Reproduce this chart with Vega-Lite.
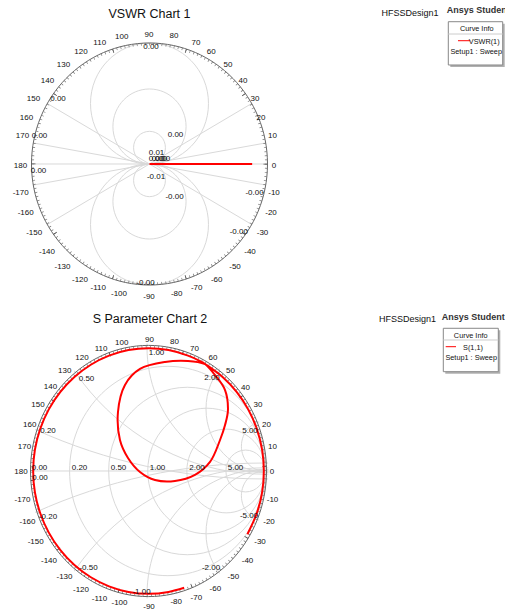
{
  "$schema": "https://vega.github.io/schema/vega-lite/v6.json",
  "padding": 0,
  "autosize": {"type": "pad"},
  "bounds": "flush",
  "spacing": 0,
  "background": "white",
  "config": {"view": {"stroke": null}, "text": {"font": "Liberation Sans", "color": "#111"}},
  "datasets": {
    "g1": [{"x":0,"y":0.5,"r":0.5},{"x":0,"y":-0.5,"r":0.5},{"x":0,"y":0.31,"r":0.31},{"x":0,"y":-0.31,"r":0.31},{"x":0,"y":0.135,"r":0.135},{"x":0,"y":-0.135,"r":0.135}],
    "l1": [{"x":-1,"y":0,"x2":1,"y2":0},{"x":0,"y":0,"x2":0.985,"y2":0.174},{"x":0,"y":0,"x2":0.985,"y2":-0.174},{"x":0,"y":0,"x2":0.866,"y2":0.5},{"x":0,"y":0,"x2":0.866,"y2":-0.5},{"x":0,"y":0,"x2":-0.866,"y2":0.5},{"x":0,"y":0,"x2":-0.866,"y2":-0.5},{"x":0,"y":0,"x2":-0.985,"y2":0.174},{"x":0,"y":0,"x2":-0.985,"y2":-0.174}],
    "unit": [{"x":0,"y":0,"r":1}],
    "rmin1": [{"x":0,"y":0,"r":0.98941}],
    "rmaj1": [{"x":0,"y":0,"r":0.98305}],
    "rmin2": [{"x":0,"y":0,"r":0.98927}],
    "rmaj2": [{"x":0,"y":0,"r":0.98283}],
    "m2": [{"x":0,"y":0,"r":2.28755}],
    "c1": [{"i":0,"x":0,"y":0},{"i":1,"x":0.87,"y":0}],
    "t1": [{"x":0.0127,"y":0.9694,"t":"0.00"},{"x":-0.7754,"y":0.5372,"t":"0.00"},{"x":-0.9322,"y":0.2314,"t":"0.00"},{"x":-0.9407,"y":-0.0554,"t":"0.00"},{"x":0.2203,"y":0.2397,"t":"0.00"},{"x":0.0593,"y":0.0909,"t":"0.01"},{"x":0.0551,"y":-0.105,"t":"-0.01"},{"x":0.2119,"y":-0.2702,"t":"-0.00"},{"x":0.8898,"y":-0.2421,"t":"-0.00"},{"x":0.7568,"y":-0.5595,"t":"-0.00"},{"x":-0.0339,"y":-0.9835,"t":"-0.00"},{"x":0.06,"y":0.04,"t":"0.00"},{"x":0.085,"y":0.04,"t":"0.00"},{"x":0.11,"y":0.04,"t":"0.00"}],
    "a1": [{"x":1.0551,"y":-0.0165,"t":"0"},{"x":1.0424,"y":0.2314,"t":"10"},{"x":0.9449,"y":0.3777,"t":"20"},{"x":0.8941,"y":0.5372,"t":"30"},{"x":0.7924,"y":0.686,"t":"40"},{"x":0.6653,"y":0.8157,"t":"50"},{"x":0.5237,"y":0.9231,"t":"60"},{"x":0.3941,"y":0.9975,"t":"70"},{"x":0.2076,"y":1.0579,"t":"80"},{"x":-0.0042,"y":1.0661,"t":"90"},{"x":-0.2356,"y":1.0521,"t":"100"},{"x":-0.422,"y":0.9975,"t":"110"},{"x":-0.5805,"y":0.9231,"t":"120"},{"x":-0.7288,"y":0.8182,"t":"130"},{"x":-0.8644,"y":0.686,"t":"140"},{"x":-0.9831,"y":0.5372,"t":"150"},{"x":-1.0424,"y":0.3802,"t":"160"},{"x":-1.0763,"y":0.2314,"t":"170"},{"x":-1.0932,"y":-0.014,"t":"180"},{"x":-1.0915,"y":-0.2372,"t":"-170"},{"x":-1.0492,"y":-0.4074,"t":"-160"},{"x":-0.9771,"y":-0.5727,"t":"-150"},{"x":-0.8686,"y":-0.7248,"t":"-140"},{"x":-0.7373,"y":-0.8537,"t":"-130"},{"x":-0.589,"y":-0.9587,"t":"-120"},{"x":-0.4339,"y":-1.0273,"t":"-110"},{"x":-0.2585,"y":-1.0744,"t":"-100"},{"x":-0.0042,"y":-1.0967,"t":"-90"},{"x":0.2305,"y":-1.0744,"t":"-80"},{"x":0.4,"y":-1.0273,"t":"-70"},{"x":0.5695,"y":-0.9587,"t":"-60"},{"x":0.7246,"y":-0.8537,"t":"-50"},{"x":0.8517,"y":-0.7248,"t":"-40"},{"x":0.9576,"y":-0.5727,"t":"-30"},{"x":1.0297,"y":-0.4074,"t":"-20"},{"x":1.0551,"y":-0.2372,"t":"-10"}],
    "lgbox1": [{"x":2.5322,"x2":2.9932,"y":1.176,"y2":0.8182}],
    "lgsh1": [{"x":2.5492,"x2":3.0102,"y":1.1595,"y2":0.8017}],
    "lgsep1": [{"x":2.5322,"x2":2.9932,"y":1.0744,"y2":1.0744}],
    "lgred1": [{"x":2.6144,"x2":2.7178,"y":1.019,"y2":1.019}],
    "lgtxt1": [{"x":2.7729,"y":1.1132,"t":"Curve Info"},{"x":2.8364,"y":1.0107,"t":"VSWR(1)"},{"x":2.7686,"y":0.9281,"t":"Setup1 : Sweep"}],
    "hd1": [{"x":2.2076,"y":1.2452,"t":"HFSSDesign1"}],
    "as1": [{"x":2.5186,"y":1.2727,"t":"Ansys Student"}],
    "ti1": [{"x":0,"y":1.2413,"t":"VSWR Chart 1"}],
    "g2": [{"x":0.1667,"y":0,"r":0.8333},{"x":0.3333,"y":0,"r":0.6667},{"x":0.5,"y":0,"r":0.5},{"x":0.6667,"y":0,"r":0.3333},{"x":0.8333,"y":0,"r":0.1667},{"x":1,"y":5,"r":5},{"x":1,"y":-5,"r":5},{"x":1,"y":2,"r":2},{"x":1,"y":-2,"r":2},{"x":1,"y":1,"r":1},{"x":1,"y":-1,"r":1},{"x":1,"y":0.5,"r":0.5},{"x":1,"y":-0.5,"r":0.5},{"x":1,"y":0.2,"r":0.2},{"x":1,"y":-0.2,"r":0.2}],
    "l2": [{"x":-1,"y":0,"x2":1,"y2":0}],
    "c2": [{"i":1,"x":0.306,"y":-0.942},{"i":2,"x":0.172,"y":-0.975},{"i":3,"x":0,"y":-0.99},{"i":4,"x":-0.172,"y":-0.975},{"i":5,"x":-0.339,"y":-0.93},{"i":6,"x":-0.495,"y":-0.857},{"i":7,"x":-0.636,"y":-0.758},{"i":8,"x":-0.758,"y":-0.636},{"i":9,"x":-0.857,"y":-0.495},{"i":10,"x":-0.93,"y":-0.339},{"i":11,"x":-0.975,"y":-0.172},{"i":12,"x":-0.99,"y":0},{"i":13,"x":-0.975,"y":0.172},{"i":14,"x":-0.93,"y":0.339},{"i":15,"x":-0.857,"y":0.495},{"i":16,"x":-0.758,"y":0.636},{"i":17,"x":-0.636,"y":0.758},{"i":18,"x":-0.495,"y":0.857},{"i":19,"x":-0.339,"y":0.93},{"i":20,"x":-0.172,"y":0.975},{"i":21,"x":0,"y":0.99},{"i":22,"x":0.172,"y":0.975},{"i":23,"x":0.339,"y":0.93},{"i":24,"x":0.434,"y":0.89},{"i":25,"x":0.485,"y":0.863},{"i":26,"x":0.571,"y":0.774},{"i":27,"x":0.657,"y":0.653},{"i":28,"x":0.682,"y":0.492},{"i":29,"x":0.657,"y":0.371},{"i":30,"x":0.614,"y":0.25},{"i":31,"x":0.528,"y":0.073},{"i":32,"x":0.399,"y":-0.032},{"i":33,"x":0.227,"y":-0.081},{"i":34,"x":0.056,"y":-0.073},{"i":35,"x":-0.073,"y":-0.008},{"i":36,"x":-0.176,"y":0.105},{"i":37,"x":-0.245,"y":0.25},{"i":38,"x":-0.262,"y":0.476},{"i":39,"x":-0.202,"y":0.694},{"i":40,"x":-0.073,"y":0.823},{"i":41,"x":0.142,"y":0.879},{"i":42,"x":0.339,"y":0.887},{"i":43,"x":0.485,"y":0.863},{"i":44,"x":0.495,"y":0.857},{"i":45,"x":0.636,"y":0.758},{"i":46,"x":0.758,"y":0.636},{"i":47,"x":0.857,"y":0.495},{"i":48,"x":0.93,"y":0.339},{"i":49,"x":0.975,"y":0.172},{"i":50,"x":0.99,"y":0},{"i":51,"x":0.975,"y":-0.172},{"i":52,"x":0.93,"y":-0.339},{"i":53,"x":0.849,"y":-0.51}],
    "t2": [{"x":-0.9356,"y":0.0218,"t":"0.00"},{"x":-0.9313,"y":-0.0589,"t":"0.00"},{"x":-0.5923,"y":0.0218,"t":"0.20"},{"x":-0.2575,"y":0.0218,"t":"0.50"},{"x":0.0773,"y":0.0218,"t":"1.00"},{"x":0.4163,"y":0.0218,"t":"2.00"},{"x":0.7468,"y":0.0218,"t":"5.00"},{"x":-0.8627,"y":0.3226,"t":"0.20"},{"x":-0.5322,"y":0.7419,"t":"0.50"},{"x":0.0687,"y":0.9492,"t":"1.00"},{"x":0.5451,"y":0.7476,"t":"2.00"},{"x":0.8712,"y":0.3226,"t":"5.00"},{"x":-0.8627,"y":-0.3685,"t":"-0.20"},{"x":-0.515,"y":-0.7847,"t":"-0.50"},{"x":-0.0601,"y":-0.9782,"t":"-1.00"},{"x":0.5365,"y":-0.7847,"t":"-2.00"},{"x":0.8627,"y":-0.3629,"t":"-5.00"}],
    "a2": [{"x":1.0601,"y":-0.0081,"t":"0"},{"x":1.0644,"y":0.196,"t":"10"},{"x":1.0129,"y":0.371,"t":"20"},{"x":0.9399,"y":0.5323,"t":"30"},{"x":0.8326,"y":0.6726,"t":"40"},{"x":0.7039,"y":0.8089,"t":"50"},{"x":0.5536,"y":0.9089,"t":"60"},{"x":0.3948,"y":0.9815,"t":"70"},{"x":0.2232,"y":1.0379,"t":"80"},{"x":0.0086,"y":1.0565,"t":"90"},{"x":-0.23,"y":1.0298,"t":"100"},{"x":-0.4077,"y":0.9815,"t":"110"},{"x":-0.5708,"y":0.9089,"t":"120"},{"x":-0.7193,"y":0.8089,"t":"130"},{"x":-0.8412,"y":0.6798,"t":"140"},{"x":-0.9485,"y":0.5323,"t":"150"},{"x":-1.0197,"y":0.371,"t":"160"},{"x":-1.0644,"y":0.196,"t":"170"},{"x":-1.0944,"y":-0.0105,"t":"180"},{"x":-1.0815,"y":-0.2339,"t":"-170"},{"x":-1.0386,"y":-0.4089,"t":"-160"},{"x":-0.9682,"y":-0.575,"t":"-150"},{"x":-0.8541,"y":-0.7258,"t":"-140"},{"x":-0.721,"y":-0.8524,"t":"-130"},{"x":-0.5794,"y":-0.9597,"t":"-120"},{"x":-0.4206,"y":-1.0298,"t":"-110"},{"x":-0.2489,"y":-1.0621,"t":"-100"},{"x":0.0043,"y":-1.0968,"t":"-90"},{"x":0.2378,"y":-1.054,"t":"-80"},{"x":0.4103,"y":-1.0218,"t":"-70"},{"x":0.5734,"y":-0.9516,"t":"-60"},{"x":0.7279,"y":-0.8524,"t":"-50"},{"x":0.8498,"y":-0.7258,"t":"-40"},{"x":0.9571,"y":-0.575,"t":"-30"},{"x":1.0343,"y":-0.4089,"t":"-20"},{"x":1.0644,"y":-0.2339,"t":"-10"}],
    "lgbox2": [{"x":2.5305,"x2":3.0026,"y":1.1508,"y2":0.8008}],
    "lgsh2": [{"x":2.5476,"x2":3.0197,"y":1.1347,"y2":0.7847}],
    "lgsep2": [{"x":2.5305,"x2":3.0026,"y":1.0565,"y2":1.0565}],
    "lgred2": [{"x":2.5511,"x2":2.6395,"y":1.0024,"y2":1.0024}],
    "lgtxt2": [{"x":2.7657,"y":1.0887,"t":"Curve Info"},{"x":2.7854,"y":0.9944,"t":"S(1,1)"},{"x":2.77,"y":0.9137,"t":"Setup1 : Sweep"}],
    "hd2": [{"x":2.2232,"y":1.2258,"t":"HFSSDesign1"}],
    "as2": [{"x":2.5167,"y":1.2444,"t":"Ansys Student"}],
    "ti2": [{"x":0.0129,"y":1.2234,"t":"S Parameter Chart 2"}]
  },
  "vconcat": [
    {
      "width": 505,
      "height": 306,
      "encoding": {
        "x": {"field": "x", "type": "quantitative", "scale": {"domain": [-1.2669, 3.0127], "nice": false, "zero": false}, "axis": null},
        "y": {"field": "y", "type": "quantitative", "scale": {"domain": [-1.1736, 1.3554], "nice": false, "zero": false}, "axis": null}
      },
      "layer": [
        {"data": {"name": "g1"}, "mark": {"type": "point", "shape": "M-1,0A1,1.02542,0,1,1,1,0A1,1.02542,0,1,1,-1,0Z", "filled": false, "stroke": "#d9d9d9", "strokeWidth": 1, "opacity": 1},
         "encoding": {"size": {"field": "r", "type": "quantitative", "scale": {"type": "pow", "exponent": 2, "domain": [0, 1], "range": [0, 55696]}, "legend": null}}},
        {"data": {"name": "l1"}, "mark": {"type": "rule", "stroke": "#d9d9d9", "strokeWidth": 1},
         "encoding": {"x2": {"field": "x2"}, "y2": {"field": "y2"}}},
        {"data": {"name": "unit"}, "mark": {"type": "point", "shape": "M-1,0A1,1.02542,0,1,1,1,0A1,1.02542,0,1,1,-1,0Z", "filled": false, "stroke": "#666", "strokeWidth": 1, "opacity": 1},
         "encoding": {"size": {"field": "r", "type": "quantitative", "scale": {"type": "pow", "exponent": 2, "domain": [0, 1], "range": [0, 55696]}, "legend": null}}},
        {"data": {"name": "rmin1"}, "mark": {"type": "point", "shape": "M-1,0A1,1.0257,0,1,1,1,0A1,1.0257,0,1,1,-1,0Z", "filled": false, "stroke": "#777", "strokeWidth": 2.5, "strokeDash": [0.7, 3.4277], "strokeDashOffset": 0.35, "opacity": 1},
         "encoding": {"size": {"field": "r", "type": "quantitative", "scale": {"type": "pow", "exponent": 2, "domain": [0, 1], "range": [0, 55696]}, "legend": null}}},
        {"data": {"name": "rmaj1"}, "mark": {"type": "point", "shape": "M-1,0A1,1.02586,0,1,1,1,0A1,1.02586,0,1,1,-1,0Z", "filled": false, "stroke": "#555", "strokeWidth": 4, "strokeDash": [0.8, 73.027], "strokeDashOffset": 0.4, "opacity": 1},
         "encoding": {"size": {"field": "r", "type": "quantitative", "scale": {"type": "pow", "exponent": 2, "domain": [0, 1], "range": [0, 55696]}, "legend": null}}},
        {"data": {"name": "c1"}, "mark": {"type": "line", "stroke": "#ff0000", "strokeWidth": 2},
         "encoding": {"order": {"field": "i", "type": "quantitative"}}},
        {"data": {"name": "t1"}, "mark": {"type": "text", "fontSize": 8, "align": "center", "baseline": "middle"},
         "encoding": {"text": {"field": "t"}}},
        {"data": {"name": "a1"}, "mark": {"type": "text", "fontSize": 8, "align": "center", "baseline": "middle"},
         "encoding": {"text": {"field": "t"}}},
        {"data": {"name": "ti1"}, "mark": {"type": "text", "fontSize": 12.5, "align": "center", "baseline": "middle"},
         "encoding": {"text": {"field": "t"}}},
        {"data": {"name": "hd1"}, "mark": {"type": "text", "fontSize": 9, "align": "center", "baseline": "middle"},
         "encoding": {"text": {"field": "t"}}},
        {"data": {"name": "as1"}, "mark": {"type": "text", "fontSize": 9, "fontWeight": "bold", "align": "left", "baseline": "middle", "color": "#333"},
         "encoding": {"text": {"field": "t"}}},
        {"data": {"name": "lgsh1"}, "mark": {"type": "rect", "fill": "#b0b0b0"},
         "encoding": {"x2": {"field": "x2"}, "y2": {"field": "y2"}}},
        {"data": {"name": "lgbox1"}, "mark": {"type": "rect", "fill": "white", "stroke": "#888", "strokeWidth": 1},
         "encoding": {"x2": {"field": "x2"}, "y2": {"field": "y2"}}},
        {"data": {"name": "lgsep1"}, "mark": {"type": "rule", "stroke": "#ccc", "strokeWidth": 1},
         "encoding": {"x2": {"field": "x2"}, "y2": {"field": "y2"}}},
        {"data": {"name": "lgred1"}, "mark": {"type": "rule", "stroke": "#ff0000", "strokeWidth": 1},
         "encoding": {"x2": {"field": "x2"}, "y2": {"field": "y2"}}},
        {"data": {"name": "lgtxt1"}, "mark": {"type": "text", "fontSize": 7.3, "align": "center", "baseline": "middle"},
         "encoding": {"text": {"field": "t"}}}
      ]
    },
    {
      "width": 505,
      "height": 307,
      "encoding": {
        "x": {"field": "x", "type": "quantitative", "scale": {"domain": [-1.2747, 3.0601], "nice": false, "zero": false}, "axis": null},
        "y": {"field": "y", "type": "quantitative", "scale": {"domain": [-1.1452, 1.3306], "nice": false, "zero": false}, "axis": null}
      },
      "layer": [
        {"data": {"name": "g2"}, "mark": {"type": "point", "shape": "M-1,0A1,1.06438,0,1,1,1,0A1,1.06438,0,1,1,-1,0Z", "filled": false, "stroke": "#d9d9d9", "strokeWidth": 1, "opacity": 1, "clip": true},
         "encoding": {"size": {"field": "r", "type": "quantitative", "scale": {"type": "pow", "exponent": 2, "domain": [0, 1], "range": [0, 54289]}, "legend": null}}},
        {"data": {"name": "l2"}, "mark": {"type": "rule", "stroke": "#d9d9d9", "strokeWidth": 1},
         "encoding": {"x2": {"field": "x2"}, "y2": {"field": "y2"}}},
        {"data": {"name": "m2"}, "mark": {"type": "point", "shape": "M-1,0A1,1.02814,0,1,1,1,0A1,1.02814,0,1,1,-1,0Z", "filled": false, "stroke": "white", "strokeWidth": 300, "opacity": 1, "clip": true},
         "encoding": {"size": {"field": "r", "type": "quantitative", "scale": {"type": "pow", "exponent": 2, "domain": [0, 1], "range": [0, 54289]}, "legend": null}}},
        {"data": {"name": "unit"}, "mark": {"type": "point", "shape": "M-1,0A1,1.06438,0,1,1,1,0A1,1.06438,0,1,1,-1,0Z", "filled": false, "stroke": "#666", "strokeWidth": 1, "opacity": 1},
         "encoding": {"size": {"field": "r", "type": "quantitative", "scale": {"type": "pow", "exponent": 2, "domain": [0, 1], "range": [0, 54289]}, "legend": null}}},
        {"data": {"name": "rmin2"}, "mark": {"type": "point", "shape": "M-1,0A1,1.06508,0,1,1,1,0A1,1.06508,0,1,1,-1,0Z", "filled": false, "stroke": "#777", "strokeWidth": 2.5, "strokeDash": [0.7, 3.4551], "strokeDashOffset": 0.35, "opacity": 1},
         "encoding": {"size": {"field": "r", "type": "quantitative", "scale": {"type": "pow", "exponent": 2, "domain": [0, 1], "range": [0, 54289]}, "legend": null}}},
        {"data": {"name": "rmaj2"}, "mark": {"type": "point", "shape": "M-1,0A1,1.0655,0,1,1,1,0A1,1.0655,0,1,1,-1,0Z", "filled": false, "stroke": "#555", "strokeWidth": 4, "strokeDash": [0.8, 73.521], "strokeDashOffset": 0.4, "opacity": 1},
         "encoding": {"size": {"field": "r", "type": "quantitative", "scale": {"type": "pow", "exponent": 2, "domain": [0, 1], "range": [0, 54289]}, "legend": null}}},
        {"data": {"name": "c2"}, "mark": {"type": "line", "stroke": "#ff0000", "strokeWidth": 2, "interpolate": "catmull-rom"},
         "encoding": {"order": {"field": "i", "type": "quantitative"}}},
        {"data": {"name": "t2"}, "mark": {"type": "text", "fontSize": 8, "align": "center", "baseline": "middle"},
         "encoding": {"text": {"field": "t"}}},
        {"data": {"name": "a2"}, "mark": {"type": "text", "fontSize": 8, "align": "center", "baseline": "middle"},
         "encoding": {"text": {"field": "t"}}},
        {"data": {"name": "ti2"}, "mark": {"type": "text", "fontSize": 12.5, "align": "center", "baseline": "middle"},
         "encoding": {"text": {"field": "t"}}},
        {"data": {"name": "hd2"}, "mark": {"type": "text", "fontSize": 9, "align": "center", "baseline": "middle"},
         "encoding": {"text": {"field": "t"}}},
        {"data": {"name": "as2"}, "mark": {"type": "text", "fontSize": 9, "fontWeight": "bold", "align": "left", "baseline": "middle", "color": "#333"},
         "encoding": {"text": {"field": "t"}}},
        {"data": {"name": "lgsh2"}, "mark": {"type": "rect", "fill": "#b0b0b0"},
         "encoding": {"x2": {"field": "x2"}, "y2": {"field": "y2"}}},
        {"data": {"name": "lgbox2"}, "mark": {"type": "rect", "fill": "white", "stroke": "#888", "strokeWidth": 1},
         "encoding": {"x2": {"field": "x2"}, "y2": {"field": "y2"}}},
        {"data": {"name": "lgsep2"}, "mark": {"type": "rule", "stroke": "#ccc", "strokeWidth": 1},
         "encoding": {"x2": {"field": "x2"}, "y2": {"field": "y2"}}},
        {"data": {"name": "lgred2"}, "mark": {"type": "rule", "stroke": "#ff0000", "strokeWidth": 1},
         "encoding": {"x2": {"field": "x2"}, "y2": {"field": "y2"}}},
        {"data": {"name": "lgtxt2"}, "mark": {"type": "text", "fontSize": 7.3, "align": "center", "baseline": "middle"},
         "encoding": {"text": {"field": "t"}}}
      ]
    }
  ]
}
